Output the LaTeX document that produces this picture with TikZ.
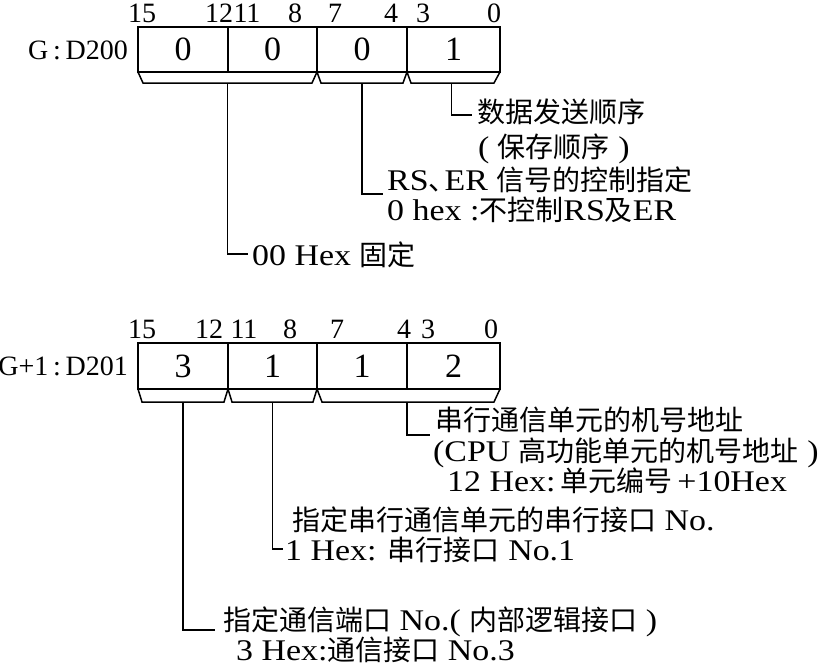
\documentclass[tikz,border=0pt]{standalone}
\usepackage{fontspec}
\setmainfont{Liberation Serif}
\newfontfamily\wide{Liberation Serif}[FakeStretch=1.13]
\newfontfamily\cjk{Noto Sans CJK SC}
\newcommand\zhtext[1]{{\cjk\fontsize{28}{30}\selectfont #1}}
\usetikzlibrary{calc}
\begin{document}
\begin{tikzpicture}[x=1pt,y=-1pt,
  cell/.style={draw, line width=2.9pt, minimum height=45pt, inner sep=0pt, outer sep=0pt, font=\fontsize{34}{36}\selectfont},
  brk/.style={line width=1.5pt, line join=miter},
  lead/.style={line width=1.6pt},
  bit/.style={font=\fontsize{28}{30}\selectfont, inner sep=0pt},
  reglbl/.style={font=\fontsize{28}{30}\selectfont, inner sep=0pt, anchor=east},
  txt/.style={font=\wide\fontsize{30}{32}\selectfont, inner sep=0pt, anchor=base west},
]
\useasboundingbox (0,0) rectangle (825,667);
\fill[white] (0,0) rectangle (825,667);

% ---------- register G : D200 ----------
\node[reglbl] (r1) at (128,50) {G\,:\,D200};
\node[cell, minimum width=90pt] (a1) at (183,49.5) {0};
\node[cell, minimum width=89pt] (a2) at (272.5,49.5) {0};
\node[cell, minimum width=90pt] (a3) at (362,49.5) {0};
\node[cell, minimum width=93pt] (a4) at (453.5,49.5) {1};

\foreach \n/\x in {15/142,12/219,11/247,8/295,7/335,4/391,3/423,0/494}
  \node[bit] (ta\n) at (\x,13) {\n};

\draw[brk] (a1.south west) -- ($(a1.south west)+(5,11)$) -- ($(a2.south east)+(-5,11)$) -- (a2.south east);
\draw[brk] (a3.south west) -- ($(a3.south west)+(4,11)$) -- ($(a3.south east)+(-4,11)$) -- (a3.south east);
\draw[brk] (a4.south west) -- ($(a4.south west)+(4,11)$) -- ($(a4.south east)+(-6,11)$) -- (a4.south east);

\coordinate (ma1) at ($(a1.south west)!0.5!(a2.south east)+(0,11)$);
\coordinate (ma3) at ($(a3.south)+(0,11)$);
\coordinate (ma4) at ($(a4.south)+(-2,11)$);

\node[txt] (t1a) at (477,122) {\zhtext{数据发送顺序}};
\node[txt] (t1b) at (478,157) {( \zhtext{保存顺序} )};
\node[txt] (t2a) at (387,190) {RS\zhtext{、}\kern-12pt ER \zhtext{信号的控制指定}};
\node[txt] (t2b) at (387,220) {0 hex :\zhtext{不控制}RS\zhtext{及}ER};
\node[txt] (t3) at (252,265) {00 Hex \zhtext{固定}};

\coordinate (e1) at (472,115);
\coordinate (e2) at (383,194);
\coordinate (e3) at (248,254);
\draw[lead] (ma4) |- (e1);
\draw[lead] (ma3) |- (e2);
\draw[lead] (ma1) |- (e3);

% ---------- register G+1 : D201 ----------
\node[reglbl] (r2) at (128,366) {G+1\,:\,D201};
\node[cell, minimum width=90pt, minimum height=46pt] (b1) at (183,366) {3};
\node[cell, minimum width=89pt, minimum height=46pt] (b2) at (272.5,366) {1};
\node[cell, minimum width=90pt, minimum height=46pt] (b3) at (362,366) {1};
\node[cell, minimum width=93pt, minimum height=46pt] (b4) at (453.5,366) {2};

\foreach \n/\x in {15/142,12/209,11/244,8/290,7/337,4/404,3/428,0/491}
  \node[bit] (tb\n) at (\x,329) {\n};

\draw[brk] (b1.south west) -- ($(b1.south west)+(4,13)$) -- ($(b1.south east)+(-4,13)$) -- (b1.south east);
\draw[brk] (b2.south west) -- ($(b2.south west)+(4,13)$) -- ($(b2.south east)+(-4,13)$) -- (b2.south east);
\draw[brk] (b3.south west) -- ($(b3.south west)+(5,13)$) -- ($(b4.south east)+(-6,13)$) -- (b4.south east);

\coordinate (mb1) at ($(b1.south)+(0,13)$);
\coordinate (mb2) at ($(b2.south)+(0,13)$);
\coordinate (mb3) at ($(b3.south east)+(0,13)$);

\node[txt] (t4a) at (435,430) {\zhtext{串行通信单元的机号地址}};
\node[txt] (t4b) at (433,461) {(CPU \zhtext{高功能单元的机号地址} )};
\node[txt] (t4c) at (447,491) {12 Hex:\,\zhtext{单元编号}\,+10Hex};
\node[txt] (t5a) at (292,530) {\zhtext{指定串行通信单元的串行接口} No.};
\node[txt] (t5b) at (285,560) {1 Hex: \zhtext{串行接口} No.1};
\node[txt] (t6a) at (223,630) {\zhtext{指定通信端口} No.( \zhtext{内部逻辑接口} )};
\node[txt] (t6b) at (236,660) {3 Hex:\zhtext{通信接口} No.3};

\coordinate (e4) at (430,435);
\coordinate (e5) at (283,549);
\coordinate (e6) at (215,630);
\draw[lead] (mb3) |- (e4);
\draw[lead] (mb2) |- (e5);
\draw[lead] (mb1) |- (e6);
\end{tikzpicture}
\end{document}
